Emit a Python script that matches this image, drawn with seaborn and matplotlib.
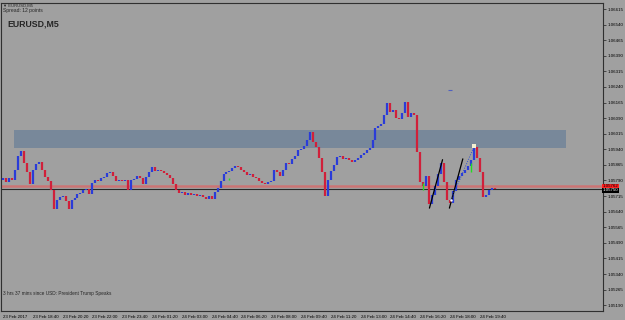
import matplotlib
matplotlib.use("Agg")
import matplotlib.pyplot as plt
import seaborn as sns
import numpy as np
import pandas as pd

# EURUSD close prices, one candle every 10 minutes from 23 Feb 17:00
closes = [
    1.05803, 1.05784, 1.05803, 1.05793, 1.05841, 1.05909, 1.05933, 1.05875, 1.05832, 1.05774,
    1.05841, 1.05870, 1.05880, 1.05841, 1.05808, 1.05789, 1.05745, 1.05654, 1.05697, 1.05712,
    1.05716, 1.05692, 1.05654, 1.05697, 1.05707, 1.05726, 1.05731, 1.05745, 1.05750, 1.05726,
    1.05779, 1.05793, 1.05789, 1.05803, 1.05808, 1.05827, 1.05832, 1.05813, 1.05789, 1.05793,
    1.05789, 1.05793, 1.05745, 1.05793, 1.05798, 1.05813, 1.05803, 1.05774, 1.05808, 1.05832,
    1.05856, 1.05837, 1.05841, 1.05837, 1.05827, 1.05817, 1.05803, 1.05774, 1.05745, 1.05731,
    1.05736, 1.05721, 1.05731, 1.05721, 1.05726, 1.05716, 1.05721, 1.05712, 1.05702, 1.05716,
    1.05702, 1.05736, 1.05755, 1.05789, 1.05822, 1.05832, 1.05837, 1.05851, 1.05861, 1.05856,
    1.05841, 1.05832, 1.05817, 1.05822, 1.05808, 1.05803, 1.05789, 1.05779, 1.05774, 1.05784,
    1.05789, 1.05841, 1.05832, 1.05813, 1.05841, 1.05875, 1.05870, 1.05894, 1.05909, 1.05938,
    1.05942, 1.05957, 1.05986, 1.06024, 1.05976, 1.05952, 1.05899, 1.05832, 1.05716, 1.05793,
    1.05837, 1.05865, 1.05904, 1.05909, 1.05894, 1.05899, 1.05890, 1.05880, 1.05890, 1.05899,
    1.05914, 1.05923, 1.05938, 1.05947, 1.05986, 1.06043, 1.06053, 1.06063, 1.06106, 1.06164,
    1.06120, 1.06130, 1.06092, 1.06087, 1.06116, 1.06168, 1.06096, 1.06116, 1.06106, 1.05928,
    1.05784, 1.05764, 1.05813, 1.05678, 1.05721, 1.05764, 1.05822, 1.05875, 1.05784, 1.05697,
    1.05683, 1.05740, 1.05793, 1.05813, 1.05827, 1.05841, 1.05861, 1.05890, 1.05952, 1.05899,
    1.05832, 1.05712, 1.05721, 1.05745, 1.05755, 1.05750,
]
first_open = 1.05793

# doji bars drawn in green
doji_idx = [76, 141, 157]
doji_lo = [1.05793, 1.05745, 1.05832]
doji_hi = [1.05803, 1.05779, 1.05875]

time_ticks = list(range(0, 170, 10))
time_labels = ["23 Feb 2017", "23 Feb 18:40", "23 Feb 20:20", "23 Feb 22:00", "23 Feb 23:40",
               "24 Feb 01:20", "24 Feb 03:00", "24 Feb 04:40", "24 Feb 06:20", "24 Feb 08:00",
               "24 Feb 09:40", "24 Feb 11:20", "24 Feb 13:00", "24 Feb 14:40", "24 Feb 16:20",
               "24 Feb 18:00", "24 Feb 19:40"]
price_ticks = [1.05190, 1.05265, 1.05340, 1.05415, 1.05490, 1.05565, 1.05640, 1.05715,
               1.05790, 1.05865, 1.05940, 1.06015, 1.06090, 1.06165, 1.06240, 1.06315,
               1.06390, 1.06465, 1.06540, 1.06615]

# drawn objects
zone_x = [3.7, 188.9]
zone_y = [1.05946, 1.06033]
ask_price = 1.05762
bid_price = 1.05750
trend1_x = [143.1, 147.5]
trend1_y = [1.05657, 1.05890]
trend2_x = [149.8, 154.3]
trend2_y = [1.05657, 1.05894]
dotted_x = [150.3, 158.2]
dotted_y = [1.05697, 1.05957]
marker_x = [150.0]
marker_y = [1.06226]

bg = "#a0a0a0"
sns.set_style("white", {"axes.facecolor": bg, "figure.facecolor": bg})
plt.rcParams['font.family'] = ['Liberation Sans', 'DejaVu Sans']

fig = plt.figure(figsize=(6.25, 3.2), dpi=100)
ax = fig.add_axes([1 / 625, 9 / 320, 602 / 625, 308 / 320])
ax.set_facecolor(bg)

df = pd.DataFrame({"close": closes})
df["open"] = df["close"].shift(1).fillna(first_open)
df["x"] = np.arange(len(df))
df["lo"] = df[["open", "close"]].min(axis=1)
df["hi"] = df[["open", "close"]].max(axis=1)
up = df["close"] >= df["open"]

# zone rectangle
ax.fill_between(zone_x, zone_y[0], zone_y[1], color="#76879a", alpha=0.95, lw=0, zorder=1)

# candles
ax.vlines(df.loc[up, "x"], df.loc[up, "lo"], df.loc[up, "hi"], colors="#2a3cd8", lw=1.6, zorder=3)
ax.vlines(df.loc[~up, "x"], df.loc[~up, "lo"], df.loc[~up, "hi"], colors="#d0203a", lw=1.6, zorder=3)
ax.vlines(doji_idx, doji_lo, doji_hi, colors="#22dd22", lw=1.0, zorder=4)

# bid / ask lines
ax.axhline(ask_price, color="#d66a6a", lw=1.8, alpha=0.8, zorder=2)
ax.axhline(bid_price, color="#2a2a2a", lw=0.8, zorder=2)

# trend lines
sns.lineplot(x=trend1_x, y=trend1_y, ax=ax, color="black", lw=0.9, zorder=5)
sns.lineplot(x=trend2_x, y=trend2_y, ax=ax, color="black", lw=0.9, zorder=5)
ax.plot(dotted_x, dotted_y, color="#3050d0", lw=0.7, ls=(0, (1, 1.5)), zorder=5)
sns.scatterplot(x=[dotted_x[1]], y=[dotted_y[1]], ax=ax, color="#f4f0d0", s=6, marker="s", lw=0, zorder=6)
sns.scatterplot(x=[dotted_x[0]], y=[dotted_y[0]], ax=ax, color="white", s=3, lw=0, zorder=6)
sns.scatterplot(x=marker_x, y=marker_y, ax=ax, color="#5060c0", s=6, marker="_", lw=0.8, zorder=6)

ax.set_xlim(-0.67, -0.67 + 602 / 2.98)
ax.set_ylim(1.05162, 1.06644)

ax.yaxis.tick_right()
ax.set_yticks(price_ticks)
ax.set_yticklabels([f"{p:.5f}" for p in price_ticks])
ax.set_xticks(time_ticks)
ax.set_xticklabels(time_labels, ha="left")
ax.tick_params(axis="both", direction="out", length=2, width=0.5, color="#202020",
               labelsize=3.2, pad=1, labelcolor="black")
ax.set_xlabel("")
ax.set_ylabel("")
for s in ax.spines.values():
    s.set_color("#303030")
    s.set_linewidth(0.8)

# price boxes on the right scale
ax.text(1.0, ask_price, f"{ask_price:.5f}", transform=ax.get_yaxis_transform(), fontsize=3.2,
        color="black", va="center", ha="left",
        bbox=dict(boxstyle="square,pad=0.15", fc="#ff2020", ec="none"), clip_on=False, zorder=7)
ax.text(1.0, bid_price - 0.00007, f"{bid_price:.5f}", transform=ax.get_yaxis_transform(), fontsize=3.2,
        color="white", va="center", ha="left",
        bbox=dict(boxstyle="square,pad=0.15", fc="black", ec="none"), clip_on=False, zorder=8)

# header and info texts
ax.text(0.003, 0.997, "\u25bc EURUSD,M5", transform=ax.transAxes, fontsize=3.0, va="top", ha="left")
ax.text(0.003, 0.985, "Spread: 12 points", transform=ax.transAxes, fontsize=3.6, va="top", ha="left")
ax.text(0.011, 0.948, "EURUSD,M5", transform=ax.transAxes, fontsize=6.3, fontweight="bold",
        va="top", ha="left")
ax.text(0.004, 0.056, "3 hrs 37 mins since USD: President Trump Speaks", transform=ax.transAxes,
        fontsize=3.4, va="center", ha="left")

fig.savefig("out.png", dpi=100, facecolor=bg)
